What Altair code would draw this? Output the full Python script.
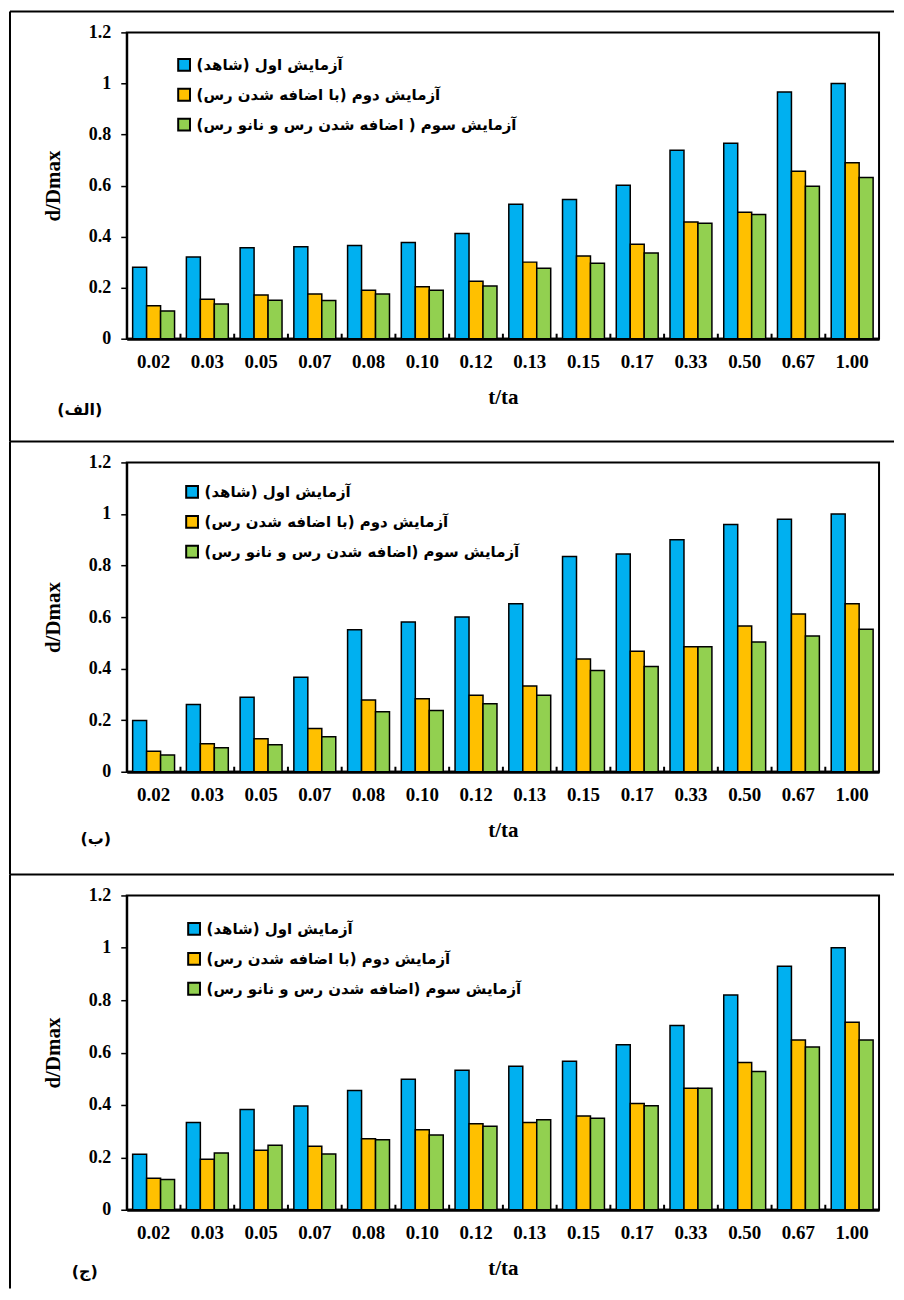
import altair as alt
import pandas as pd

cats = ["0.02", "0.03", "0.05", "0.07", "0.08", "0.10", "0.12", "0.13", "0.15", "0.17", "0.33", "0.50", "0.67", "1.00"]

s1 = "آزمایش اول (شاهد)"
s2 = "آزمایش دوم (با اضافه شدن رس)"
s3a = "آزمایش سوم ( اضافه شدن رس و نانو رس)"
s3b = "آزمایش سوم (اضافه شدن رس و نانو رس)"
colors = ["#00B0F0", "#FFC000", "#92D050"]

panel_labels = ["(الف)", "(ب)", "(ج)"]

blue1 = [0.28, 0.32, 0.356, 0.36, 0.365, 0.377, 0.412, 0.527, 0.545, 0.601, 0.738, 0.766, 0.966, 1.0]
orange1 = [0.129, 0.155, 0.171, 0.175, 0.19, 0.204, 0.225, 0.30, 0.324, 0.37, 0.457, 0.495, 0.656, 0.689]
green1 = [0.109, 0.136, 0.151, 0.15, 0.175, 0.19, 0.206, 0.276, 0.296, 0.336, 0.452, 0.487, 0.597, 0.632]

blue2 = [0.199, 0.261, 0.289, 0.367, 0.551, 0.581, 0.60, 0.652, 0.835, 0.845, 0.90, 0.959, 0.98, 1.0]
orange2 = [0.079, 0.109, 0.128, 0.168, 0.278, 0.283, 0.297, 0.333, 0.437, 0.467, 0.485, 0.565, 0.612, 0.652]
green2 = [0.065, 0.093, 0.105, 0.136, 0.233, 0.238, 0.264, 0.297, 0.393, 0.408, 0.485, 0.503, 0.527, 0.553]

blue3 = [0.212, 0.333, 0.383, 0.396, 0.455, 0.498, 0.533, 0.548, 0.567, 0.63, 0.703, 0.82, 0.93, 1.0]
orange3 = [0.12, 0.193, 0.227, 0.242, 0.271, 0.305, 0.328, 0.333, 0.358, 0.406, 0.464, 0.562, 0.648, 0.716]
green3 = [0.115, 0.217, 0.246, 0.213, 0.267, 0.285, 0.319, 0.344, 0.349, 0.397, 0.464, 0.528, 0.621, 0.648]

RLM = "\u200f"
P_IN = 0.22
SERIF = "'Liberation Serif', 'Times New Roman', Times, serif"
W = 754


def panel(blue, orange, green, names, label, H, ftop, fbot, legx, legy, labx, laby):
    rows = []
    for name, vals in zip(names, [blue, orange, green]):
        for c, v in zip(cats, vals):
            rows.append({"t": c, "series": name, "v": v})
    df = pd.DataFrame(rows)

    xenc = alt.X("t:N", sort=cats,
                 scale=alt.Scale(paddingInner=P_IN, paddingOuter=P_IN / 2),
                 axis=alt.Axis(title="t/ta", labelAngle=0, ticks=False, tickSize=0,
                               labelPadding=14, titlePadding=15, labelFontSize=19,
                               domainColor="black", domainWidth=3))
    bars = alt.Chart(df).mark_bar(stroke="black", strokeWidth=1.5).encode(
        x=xenc,
        xOffset=alt.XOffset("series:N", sort=names,
                            scale=alt.Scale(paddingInner=0, paddingOuter=0)),
        y=alt.Y("v:Q", scale=alt.Scale(domain=[0, 1.2], nice=False),
                axis=alt.Axis(title="d/Dmax", values=[0, 0.2, 0.4, 0.6, 0.8, 1.0, 1.2],
                              format="~g", tickSize=6, tickWidth=1.5, tickColor="black",
                              labelPadding=10, titlePadding=25,
                              domainColor="black", domainWidth=2)),
        color=alt.Color("series:N",
                        scale=alt.Scale(domain=names, range=colors),
                        legend=alt.Legend(orient="none", legendX=legx, legendY=legy,
                                          title=None, symbolType="square",
                                          symbolSize=140, symbolStrokeColor="black",
                                          symbolStrokeWidth=2, labelFont="DejaVu Sans",
                                          labelFontWeight="bold", labelFontSize=15,
                                          labelColor="black", labelLimit=600,
                                          rowPadding=9, labelOffset=5, padding=0,
                                          labelExpr="'" + RLM + "' + datum.label + '" + RLM + "'")),
    )

    tick_df = pd.DataFrame({"t": cats[1:]})
    ticks = alt.Chart(tick_df).mark_rule(color="black", strokeWidth=2,
                                         xOffset=-(W / len(cats)) * P_IN / 2).encode(
        x=alt.X("t:N", sort=cats, bandPosition=0),
        y=alt.value(H - 5),
        y2=alt.value(H),
    )

    one = pd.DataFrame({"lab": [RLM + label + RLM]})
    ftopline = alt.Chart(one).mark_rule(color="black", strokeWidth=2).encode(
        x=alt.value(-117), x2=alt.value(769), y=alt.value(ftop), y2=alt.value(ftop))
    fleftline = alt.Chart(one).mark_rule(color="black", strokeWidth=2).encode(
        x=alt.value(-117), x2=alt.value(-117), y=alt.value(ftop), y2=alt.value(fbot))
    lab = alt.Chart(one).mark_text(font="DejaVu Sans", fontWeight="bold", fontSize=16,
                                   color="black").encode(
        text="lab:N", x=alt.value(labx), y=alt.value(laby))

    return alt.layer(bars, ticks, ftopline, fleftline, lab).properties(width=W, height=H)


p1 = panel(blue1, orange1, green1, [s1, s2, s3a], panel_labels[0],
           307, -21, 410, 50, 25, -47, 378)
p2 = panel(blue2, orange2, green2, [s1, s2, s3b], panel_labels[1],
           310, -21, 413, 58, 22, -31, 377)
p3 = panel(blue3, orange3, green3, [s1, s2, s3b], panel_labels[2],
           315, -21, 394, 60, 26, -42, 377)

chart = alt.vconcat(p1, p2, p3, spacing=124, bounds="flush").resolve_scale(
    color="independent", x="independent", y="independent", xOffset="independent"
).resolve_legend(color="independent").properties(
    padding=0
).configure_view(
    stroke="black", strokeWidth=2
).configure_axis(
    grid=False,
    labelFont=SERIF, labelFontWeight="bold", labelFontSize=18, labelColor="black",
    titleFont=SERIF, titleFontWeight="bold", titleFontSize=21, titleColor="black",
)

chart.save("out.html", embed_options={"renderer": "svg", "actions": False})
